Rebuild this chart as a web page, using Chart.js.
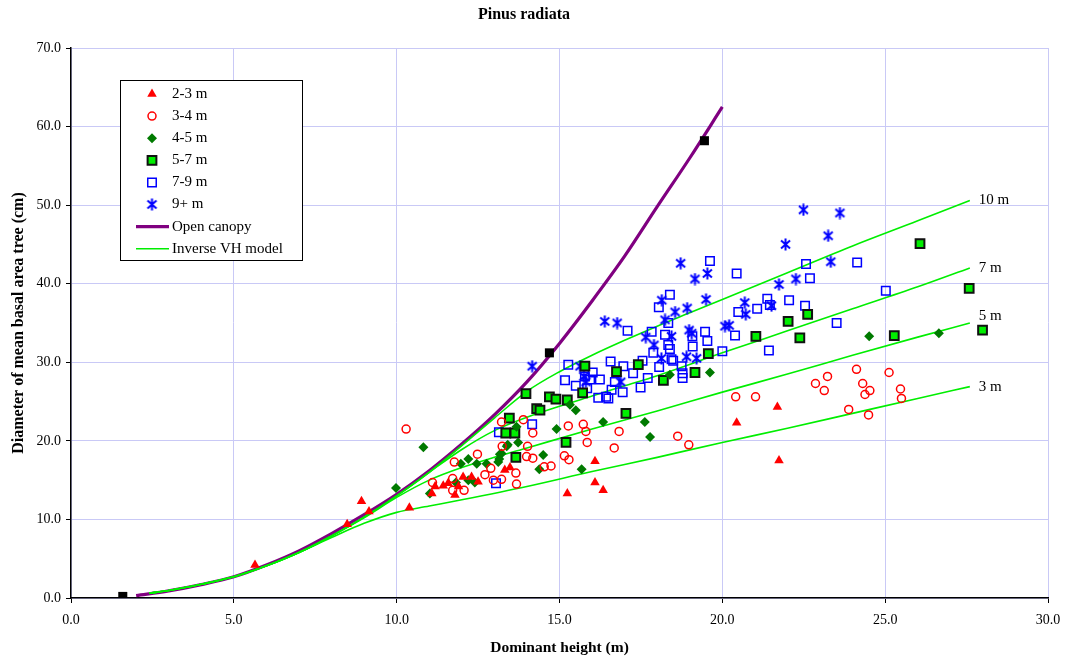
<!DOCTYPE html>
<html>
<head>
<meta charset="utf-8">
<script src="https://cdn.jsdelivr.net/npm/chart.js@4/dist/chart.umd.min.js"></script>
<style>
  html, body { margin: 0; padding: 0; background: #fff; }
</style>
</head>
<body>
<canvas id="chart" width="1065" height="659"></canvas>
<script>
// dominant height (m) / diameter (cm) for each crown class
const h23 = [5.65, 8.48, 8.92, 9.15, 10.39, 11.08, 11.18, 11.43, 11.58, 11.79, 11.9, 12.04, 12.3, 12.5, 13.32, 13.48, 15.24, 16.09, 16.09, 16.34, 20.44, 21.69, 21.74];
const d23 = [4.2, 9.4, 12.3, 11.0, 11.5, 13.3, 14.2, 14.3, 14.6, 13.1, 14.2, 15.4, 15.4, 14.8, 16.3, 16.6, 13.3, 17.4, 14.7, 13.7, 22.3, 24.3, 17.5];

const h34 = [10.29, 11.1, 11.72, 11.72, 11.77, 12.07, 12.48, 12.71, 12.89, 12.97, 13.22, 13.22, 13.24, 13.66, 13.68, 13.89, 13.99, 14.02, 14.18, 14.18, 14.53, 14.74, 15.15, 15.27, 15.29, 15.73, 15.81, 15.85, 16.68, 16.83, 18.63, 18.97, 20.41, 21.02, 22.86, 23.13, 23.23, 23.88, 24.12, 24.31, 24.38, 24.49, 24.53, 25.12, 25.47, 25.5];
const d34 = [21.5, 14.7, 15.2, 13.7, 17.3, 13.7, 18.3, 15.7, 16.5, 15.0, 15.1, 22.4, 19.3, 15.9, 14.5, 22.7, 18.0, 19.3, 21.0, 17.8, 16.7, 16.8, 18.1, 21.9, 17.6, 22.1, 21.2, 19.8, 19.1, 21.2, 20.6, 19.5, 25.6, 25.6, 27.3, 26.4, 28.2, 24.0, 29.1, 27.3, 25.9, 23.3, 26.4, 28.7, 26.6, 25.4];

const h45 = [9.98, 10.82, 11.02, 11.82, 11.97, 12.2, 12.2, 12.4, 12.46, 12.76, 13.12, 13.15, 13.17, 13.22, 13.38, 13.41, 13.68, 13.73, 14.38, 14.5, 14.91, 15.32, 15.5, 15.68, 16.34, 17.62, 17.78, 18.39, 19.62, 24.51, 26.65];
const d45 = [14.0, 19.2, 13.3, 14.7, 17.1, 17.7, 15.0, 14.7, 17.1, 17.1, 17.3, 17.7, 18.3, 18.4, 19.3, 19.5, 21.8, 19.8, 16.4, 18.2, 21.5, 24.6, 23.9, 16.4, 22.4, 22.4, 20.5, 28.4, 28.7, 33.3, 33.7];

const h57 = [13.35, 13.46, 13.63, 13.66, 13.97, 14.3, 14.4, 14.69, 14.89, 15.2, 15.24, 15.71, 15.78, 16.75, 17.04, 17.42, 18.19, 19.16, 19.57, 21.03, 22.02, 22.38, 22.62, 25.28, 26.07, 27.58, 27.99];
const d57 = [21.0, 22.9, 21.0, 17.9, 26.0, 24.1, 23.9, 25.6, 25.3, 19.8, 25.2, 26.1, 29.5, 28.8, 23.5, 29.7, 27.7, 28.7, 31.1, 33.3, 35.2, 33.1, 36.1, 33.4, 45.1, 39.4, 34.1];

const h79 = [13.05, 13.14, 14.16, 15.17, 15.27, 15.5, 15.78, 15.85, 15.94, 16.02, 16.19, 16.24, 16.43, 16.5, 16.57, 16.6, 16.7, 16.94, 16.96, 17.09, 17.26, 17.49, 17.55, 17.71, 17.83, 17.88, 18.05, 18.06, 18.24, 18.34, 18.34, 18.39, 18.39, 18.44, 18.49, 18.75, 18.78, 18.78, 19.08, 19.09, 19.47, 19.54, 19.62, 20.0, 20.39, 20.44, 20.49, 21.07, 21.38, 21.43, 21.46, 22.05, 22.54, 22.57, 22.69, 23.51, 24.14, 25.02];
const d79 = [14.6, 21.1, 22.1, 27.7, 29.7, 27.0, 28.2, 26.7, 27.8, 28.7, 25.5, 27.8, 25.6, 25.4, 30.1, 26.5, 27.5, 26.2, 29.5, 34.0, 28.6, 26.8, 30.2, 28.0, 33.9, 31.2, 37.0, 29.4, 33.5, 35.0, 32.2, 38.6, 31.7, 30.4, 30.2, 29.5, 28.6, 28.0, 33.3, 32.0, 33.9, 32.7, 42.9, 31.4, 33.4, 41.3, 36.4, 36.8, 38.1, 31.5, 37.3, 37.9, 37.2, 42.5, 40.7, 35.0, 42.7, 39.1];

const h9p = [14.16, 15.63, 15.75, 15.81, 16.39, 16.77, 16.88, 17.65, 17.9, 18.13, 18.14, 18.24, 18.44, 18.55, 18.72, 18.9, 18.92, 18.98, 19.06, 19.16, 19.21, 19.5, 19.54, 20.08, 20.21, 20.69, 20.72, 21.51, 21.74, 21.94, 22.26, 22.49, 23.25, 23.33, 23.61];
const d9p = [29.5, 29.5, 28.2, 27.5, 35.2, 35.0, 27.5, 33.2, 32.2, 30.5, 37.9, 35.4, 33.3, 36.4, 42.6, 30.7, 36.9, 34.1, 33.7, 40.6, 30.5, 38.0, 41.3, 34.6, 34.7, 37.6, 36.1, 37.2, 39.9, 45.0, 40.6, 49.4, 46.1, 42.8, 49.0];

// black reference squares on the open canopy curve
const hRef = [1.59, 14.69, 19.45];
const dRef = [0.2, 31.2, 58.2];

// open canopy curve
const openX = [2, 3, 4, 5, 6, 7, 8, 9, 10, 11, 12, 13, 14, 15, 16, 17, 18, 19, 20];
const openY = [0.3, 0.9, 1.7, 2.7, 4.2, 6.0, 8.2, 10.6, 13.2, 16.2, 19.6, 23.3, 27.5, 32.4, 37.8, 43.5, 49.8, 56.0, 62.5];

// inverse VH model, one curve per label
const vh3X = [2.4, 3, 4, 5, 6, 7, 8, 9, 10, 11, 12, 14, 16, 18, 20, 22, 24, 26, 27.6];
const vh3Y = [0.6, 0.95, 1.75, 2.7, 4.1, 5.8, 7.7, 9.5, 10.9, 11.7, 12.5, 14.2, 16.1, 17.9, 19.8, 21.6, 23.5, 25.4, 26.9];
const vh5X = [2.4, 3, 4, 5, 6, 7, 8, 9, 10, 11, 12, 13, 14, 16, 18, 20, 22, 24, 26, 27.6];
const vh5Y = [0.6, 0.95, 1.75, 2.7, 4.1, 5.8, 7.9, 10.2, 12.8, 15.0, 16.6, 17.9, 19.1, 21.5, 23.8, 26.2, 28.5, 30.9, 33.2, 35.0];
const vh7X = [2.4, 3, 4, 5, 6, 7, 8, 9, 10, 11, 12, 13, 14, 15, 16, 17, 18, 20, 22, 24, 26, 27.6];
const vh7Y = [0.6, 0.95, 1.75, 2.7, 4.1, 5.8, 7.9, 10.3, 13.0, 16.0, 18.9, 21.3, 23.0, 24.4, 25.7, 27.0, 28.3, 31.2, 34.0, 36.8, 39.6, 42.0];
const vh10X = [2.4, 3, 4, 5, 6, 7, 8, 9, 10, 11, 12, 13, 14, 15, 16, 17, 18, 19, 20, 22, 24, 26, 27.6];
const vh10Y = [0.6, 0.95, 1.75, 2.7, 4.1, 5.8, 7.9, 10.3, 13.0, 16.0, 19.4, 22.9, 26.3, 28.8, 30.9, 32.8, 34.6, 36.3, 38.0, 41.4, 44.8, 48.0, 50.6];

const zip = (xs, ys) => xs.map((x, i) => ({ x: x, y: ys[i] }));
const serif = '"Liberation Serif", "Times New Roman", serif';

// excel style star: X with a vertical bar
function starMarker() {
  const c = document.createElement('canvas');
  c.width = 13; c.height = 13;
  const g = c.getContext('2d');
  g.strokeStyle = '#0000ff';
  g.lineWidth = 2;
  g.beginPath();
  g.moveTo(2, 2.5); g.lineTo(11, 10.5);
  g.moveTo(11, 2.5); g.lineTo(2, 10.5);
  g.moveTo(6.5, 0.5); g.lineTo(6.5, 12.5);
  g.stroke();
  return c;
}
const star = starMarker();

const pointSeries = [
  { label: '2-3 m', data: zip(h23, d23), pointStyle: 'triangle', pointRadius: 5.5, backgroundColor: '#ff0000', borderColor: '#ff0000', borderWidth: 0 },
  { label: '3-4 m', data: zip(h34, d34), pointStyle: 'circle', pointRadius: 4, backgroundColor: 'rgba(0,0,0,0)', borderColor: '#ff0000', borderWidth: 1.5 },
  { label: '4-5 m', data: zip(h45, d45), pointStyle: 'rectRot', pointRadius: 5, backgroundColor: '#007a00', borderColor: '#007a00', borderWidth: 0 },
  { label: '5-7 m', data: zip(h57, d57), pointStyle: 'rect', pointRadius: 6.2, backgroundColor: '#00ee00', borderColor: '#111111', borderWidth: 2 },
  { label: '7-9 m', data: zip(h79, d79), pointStyle: 'rect', pointRadius: 6, backgroundColor: 'rgba(0,0,0,0)', borderColor: '#0000ff', borderWidth: 1.5 },
  { label: '9+ m', data: zip(h9p, d9p), pointStyle: star, pointRadius: 6, backgroundColor: '#0000ff', borderColor: '#0000ff', borderWidth: 0 }
];

const vhLines = [
  { label: '10 m', data: zip(vh10X, vh10Y), dy: 0 },
  { label: '7 m', data: zip(vh7X, vh7Y), dy: 0 },
  { label: '5 m', data: zip(vh5X, vh5Y), dy: -7 },
  { label: '3 m', data: zip(vh3X, vh3Y), dy: 0 }
];

const datasets = [
  { label: 'ref', data: zip(hRef, dRef), pointStyle: 'rect', pointRadius: 6.4, backgroundColor: '#000', borderColor: '#000', borderWidth: 0 }
];
pointSeries.forEach(s => datasets.push(Object.assign({ pointHoverRadius: s.pointRadius }, s)));
vhLines.forEach(l => datasets.push({
  label: l.label, data: l.data, showLine: true, pointRadius: 0, borderColor: '#00ee00', borderWidth: 1.6,
  cubicInterpolationMode: 'monotone', fill: false, vh: true, dy: l.dy
}));
datasets.push({
  label: 'Open canopy', data: zip(openX, openY), showLine: true, pointRadius: 0, borderColor: '#800080', borderWidth: 3.2,
  cubicInterpolationMode: 'monotone', fill: false
});

// curve labels at the right end of each VH line
const lineLabels = {
  id: 'lineLabels',
  afterDatasetsDraw(chart) {
    const ctx = chart.ctx;
    ctx.save();
    ctx.font = '15px ' + serif;
    ctx.fillStyle = '#000';
    ctx.textBaseline = 'middle';
    chart.data.datasets.forEach((ds, i) => {
      if (!ds.vh) return;
      const pts = chart.getDatasetMeta(i).data;
      const p = pts[pts.length - 1];
      ctx.fillText(ds.label, p.x + 9, p.y + ds.dy);
    });
    ctx.restore();
  }
};

// boxed legend inside the plot area
const legendBox = {
  id: 'legendBox',
  afterDraw(chart) {
    const ctx = chart.ctx, a = chart.chartArea;
    const x0 = a.left + 49, y0 = a.top + 32, w = 182, h = 180;
    ctx.save();
    ctx.fillStyle = '#fff';
    ctx.fillRect(x0, y0, w, h);
    ctx.strokeStyle = '#000';
    ctx.lineWidth = 1;
    ctx.strokeRect(x0 + 0.5, y0 + 0.5, w, h);
    ctx.font = '15px ' + serif;
    ctx.textBaseline = 'middle';
    const row = i => y0 + 14 + i * 22.1;
    pointSeries.forEach((s, i) => {
      ctx.fillStyle = s.backgroundColor;
      ctx.strokeStyle = s.borderColor;
      ctx.lineWidth = s.borderWidth;
      Chart.helpers.drawPoint(ctx, { pointStyle: s.pointStyle, radius: s.pointRadius, borderWidth: s.borderWidth, rotation: 0 }, x0 + 32, row(i));
      ctx.fillStyle = '#000';
      ctx.fillText(s.label, x0 + 52, row(i));
    });
    const lines = [['Open canopy', '#800080', 3.2], ['Inverse VH model', '#00ee00', 1.6]];
    lines.forEach((l, j) => {
      const y = row(6 + j);
      ctx.strokeStyle = l[1];
      ctx.lineWidth = l[2];
      ctx.beginPath();
      ctx.moveTo(x0 + 16, y);
      ctx.lineTo(x0 + 49, y);
      ctx.stroke();
      ctx.fillStyle = '#000';
      ctx.fillText(l[0], x0 + 52, y);
    });
    ctx.restore();
  }
};

const gridColor = '#c9c9f6';

new Chart(document.getElementById('chart'), {
  type: 'scatter',
  data: { datasets: datasets },
  options: {
    responsive: false,
    animation: false,
    layout: { padding: { left: 0, top: 0, right: 17, bottom: 0 } },
    plugins: {
      legend: { display: false },
      tooltip: { enabled: false },
      title: {
        display: true,
        text: 'Pinus radiata',
        color: '#000',
        font: { family: serif, size: 16, weight: 'bold' },
        padding: { top: 5, bottom: 23.8 }
      }
    },
    scales: {
      x: {
        type: 'linear',
        min: 0,
        max: 30,
        ticks: { stepSize: 5, color: '#000', padding: 9, font: { family: serif, size: 14 }, callback: v => v.toFixed(1) },
        grid: { color: gridColor, tickColor: '#000', tickLength: 5 },
        border: { color: '#000', width: 1.5 },
        title: { display: true, text: 'Dominant height (m)', color: '#000', font: { family: serif, size: 15.5, weight: 'bold' }, padding: { top: 0, bottom: 2 } },
        afterFit(scale) {
          scale.height = 61;
          scale.paddingLeft = 0;
          scale.paddingRight = 0;
        }
      },
      y: {
        type: 'linear',
        min: 0,
        max: 70,
        ticks: { stepSize: 10, color: '#000', padding: 5, font: { family: serif, size: 14 }, callback: v => v.toFixed(1) },
        grid: { color: gridColor, tickColor: '#000', tickLength: 5 },
        border: { color: '#000', width: 1.5 },
        title: { display: true, text: 'Diameter of mean basal area tree (cm)', color: '#000', font: { family: serif, size: 16, weight: 'bold' }, padding: { top: 9, bottom: 0 } },
        afterFit(scale) { scale.width = 71; }
      }
    }
  },
  plugins: [lineLabels, legendBox]
});
</script>
</body>
</html>
